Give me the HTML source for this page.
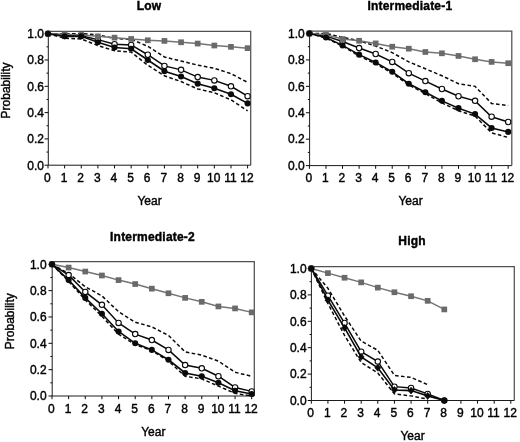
<!DOCTYPE html>
<html><head><meta charset="utf-8"><title>Survival probability by risk group</title>
<style>
html,body{margin:0;padding:0;background:#fff;}
body{width:520px;height:442px;overflow:hidden;}
svg{display:block;will-change:transform;filter:blur(0.35px);}
text{font-family:"Liberation Sans", sans-serif;fill:#000;stroke:#000;stroke-width:0.4px;}
.t{font-size:12px;}
.h{font-size:12px;font-weight:bold;letter-spacing:0.2px;}
</style></head><body>
<svg width="520" height="442" viewBox="0 0 520 442">
<rect width="520" height="442" fill="#fff"/>
<g>
<path d="M48.3 31.3 H250.7 V165.2" fill="none" stroke="#505050" stroke-width="1.25"/>
<path d="M48.3 31.3 V165.2 H250.7" fill="none" stroke="#1c1c1c" stroke-width="1"/>
<path d="M48 165.2v3.2M64.63 165.2v3.2M81.27 165.2v3.2M97.9 165.2v3.2M114.53 165.2v3.2M131.17 165.2v3.2M147.8 165.2v3.2M164.43 165.2v3.2M181.07 165.2v3.2M197.7 165.2v3.2M214.33 165.2v3.2M230.97 165.2v3.2M247.6 165.2v3.2M48.3 165.2h-3.7M48.3 152.05h-1.8M48.3 138.9h-3.7M48.3 125.75h-1.8M48.3 112.6h-3.7M48.3 99.45h-1.8M48.3 86.3h-3.7M48.3 73.15h-1.8M48.3 60h-3.7M48.3 46.85h-1.8M48.3 33.7h-3.7" fill="none" stroke="#0a0a0a" stroke-width="1"/>
<text class="t" x="47.4" y="182" text-anchor="middle">0</text>
<text class="t" x="64.03" y="182" text-anchor="middle">1</text>
<text class="t" x="80.67" y="182" text-anchor="middle">2</text>
<text class="t" x="97.3" y="182" text-anchor="middle">3</text>
<text class="t" x="113.93" y="182" text-anchor="middle">4</text>
<text class="t" x="130.57" y="182" text-anchor="middle">5</text>
<text class="t" x="147.2" y="182" text-anchor="middle">6</text>
<text class="t" x="163.83" y="182" text-anchor="middle">7</text>
<text class="t" x="180.47" y="182" text-anchor="middle">8</text>
<text class="t" x="197.1" y="182" text-anchor="middle">9</text>
<text class="t" x="213.73" y="182" text-anchor="middle">10</text>
<text class="t" x="230.37" y="182" text-anchor="middle">11</text>
<text class="t" x="247" y="182" text-anchor="middle">12</text>
<text class="t" x="43.9" y="169.5" text-anchor="end">0.0</text>
<text class="t" x="43.9" y="143.2" text-anchor="end">0.2</text>
<text class="t" x="43.9" y="116.9" text-anchor="end">0.4</text>
<text class="t" x="43.9" y="90.6" text-anchor="end">0.6</text>
<text class="t" x="43.9" y="64.3" text-anchor="end">0.8</text>
<text class="t" x="43.9" y="38" text-anchor="end">1.0</text>
<text class="h" x="149.1" y="10.2" text-anchor="middle">Low</text>
<text class="t" x="149.5" y="205" text-anchor="middle">Year</text>
<text class="t" transform="translate(10.3 90.45) rotate(-90)" text-anchor="middle">Probability</text>
<polyline points="48,33.7 64.63,33.7 81.27,33.7 97.9,34.75 114.53,38.57 131.17,39.22 147.8,46.32 164.43,56.98 181.07,61.05 197.7,65.13 214.33,68.28 230.97,73.68 247.6,82.35" fill="none" stroke="#0a0a0a" stroke-width="1.5" stroke-dasharray="3.6 2.4"/>
<polyline points="48,33.7 64.63,38.3 81.27,38.96 97.9,45.53 114.53,50.79 131.17,52.11 147.8,65.26 164.43,75.78 181.07,81.57 197.7,88.93 214.33,92.74 230.97,99.84 247.6,110.76" fill="none" stroke="#0a0a0a" stroke-width="1.5" stroke-dasharray="3.6 2.4"/>
<polyline points="48,33.7 64.63,35.67 81.27,35.67 97.9,39.62 114.53,44.22 131.17,44.88 147.8,54.74 164.43,65.92 181.07,69.86 197.7,77.09 214.33,80.38 230.97,86.3 247.6,96.16" fill="none" stroke="#0a0a0a" stroke-width="1.5"/>
<circle cx="48" cy="33.7" r="2.7" fill="#fff" stroke="#0a0a0a" stroke-width="1.1"/>
<circle cx="64.63" cy="35.67" r="2.7" fill="#fff" stroke="#0a0a0a" stroke-width="1.1"/>
<circle cx="81.27" cy="35.67" r="2.7" fill="#fff" stroke="#0a0a0a" stroke-width="1.1"/>
<circle cx="97.9" cy="39.62" r="2.7" fill="#fff" stroke="#0a0a0a" stroke-width="1.1"/>
<circle cx="114.53" cy="44.22" r="2.7" fill="#fff" stroke="#0a0a0a" stroke-width="1.1"/>
<circle cx="131.17" cy="44.88" r="2.7" fill="#fff" stroke="#0a0a0a" stroke-width="1.1"/>
<circle cx="147.8" cy="54.74" r="2.7" fill="#fff" stroke="#0a0a0a" stroke-width="1.1"/>
<circle cx="164.43" cy="65.92" r="2.7" fill="#fff" stroke="#0a0a0a" stroke-width="1.1"/>
<circle cx="181.07" cy="69.86" r="2.7" fill="#fff" stroke="#0a0a0a" stroke-width="1.1"/>
<circle cx="197.7" cy="77.09" r="2.7" fill="#fff" stroke="#0a0a0a" stroke-width="1.1"/>
<circle cx="214.33" cy="80.38" r="2.7" fill="#fff" stroke="#0a0a0a" stroke-width="1.1"/>
<circle cx="230.97" cy="86.3" r="2.7" fill="#fff" stroke="#0a0a0a" stroke-width="1.1"/>
<circle cx="247.6" cy="96.16" r="2.7" fill="#fff" stroke="#0a0a0a" stroke-width="1.1"/>
<polyline points="48,33.7 64.63,34.36 81.27,35.01 97.9,36.33 114.53,37.64 131.17,38.96 147.8,40.27 164.43,40.93 181.07,42.25 197.7,43.56 214.33,45.53 230.97,46.85 247.6,48.16" fill="none" stroke="#747474" stroke-width="1.5"/>
<rect x="45.15" y="30.85" width="5.7" height="5.7" fill="#6a6a6a"/>
<rect x="61.78" y="31.51" width="5.7" height="5.7" fill="#6a6a6a"/>
<rect x="78.42" y="32.16" width="5.7" height="5.7" fill="#6a6a6a"/>
<rect x="95.05" y="33.48" width="5.7" height="5.7" fill="#6a6a6a"/>
<rect x="111.68" y="34.79" width="5.7" height="5.7" fill="#6a6a6a"/>
<rect x="128.32" y="36.11" width="5.7" height="5.7" fill="#6a6a6a"/>
<rect x="144.95" y="37.42" width="5.7" height="5.7" fill="#6a6a6a"/>
<rect x="161.58" y="38.08" width="5.7" height="5.7" fill="#6a6a6a"/>
<rect x="178.22" y="39.4" width="5.7" height="5.7" fill="#6a6a6a"/>
<rect x="194.85" y="40.71" width="5.7" height="5.7" fill="#6a6a6a"/>
<rect x="211.48" y="42.68" width="5.7" height="5.7" fill="#6a6a6a"/>
<rect x="228.12" y="44" width="5.7" height="5.7" fill="#6a6a6a"/>
<rect x="244.75" y="45.31" width="5.7" height="5.7" fill="#6a6a6a"/>
<polyline points="48,33.7 64.63,36.33 81.27,36.33 97.9,42.25 114.53,47.51 131.17,48.82 147.8,60 164.43,71.18 181.07,76.44 197.7,83.67 214.33,88.27 230.97,94.19 247.6,103.39" fill="none" stroke="#0a0a0a" stroke-width="1.6"/>
<circle cx="48" cy="33.7" r="3.05" fill="#0a0a0a"/>
<circle cx="64.63" cy="36.33" r="3.05" fill="#0a0a0a"/>
<circle cx="81.27" cy="36.33" r="3.05" fill="#0a0a0a"/>
<circle cx="97.9" cy="42.25" r="3.05" fill="#0a0a0a"/>
<circle cx="114.53" cy="47.51" r="3.05" fill="#0a0a0a"/>
<circle cx="131.17" cy="48.82" r="3.05" fill="#0a0a0a"/>
<circle cx="147.8" cy="60" r="3.05" fill="#0a0a0a"/>
<circle cx="164.43" cy="71.18" r="3.05" fill="#0a0a0a"/>
<circle cx="181.07" cy="76.44" r="3.05" fill="#0a0a0a"/>
<circle cx="197.7" cy="83.67" r="3.05" fill="#0a0a0a"/>
<circle cx="214.33" cy="88.27" r="3.05" fill="#0a0a0a"/>
<circle cx="230.97" cy="94.19" r="3.05" fill="#0a0a0a"/>
<circle cx="247.6" cy="103.39" r="3.05" fill="#0a0a0a"/>
</g>
<g>
<path d="M309.6 31 H511.8 V165.6" fill="none" stroke="#505050" stroke-width="1.25"/>
<path d="M309.6 31 V165.6 H511.8" fill="none" stroke="#1c1c1c" stroke-width="1"/>
<path d="M309.4 165.6v3.2M325.97 165.6v3.2M342.53 165.6v3.2M359.1 165.6v3.2M375.67 165.6v3.2M392.23 165.6v3.2M408.8 165.6v3.2M425.37 165.6v3.2M441.93 165.6v3.2M458.5 165.6v3.2M475.07 165.6v3.2M491.63 165.6v3.2M508.2 165.6v3.2M309.6 165.6h-3.7M309.6 152.39h-1.8M309.6 139.18h-3.7M309.6 125.97h-1.8M309.6 112.76h-3.7M309.6 99.55h-1.8M309.6 86.34h-3.7M309.6 73.13h-1.8M309.6 59.92h-3.7M309.6 46.71h-1.8M309.6 33.5h-3.7" fill="none" stroke="#0a0a0a" stroke-width="1"/>
<text class="t" x="308.8" y="182.4" text-anchor="middle">0</text>
<text class="t" x="325.37" y="182.4" text-anchor="middle">1</text>
<text class="t" x="341.93" y="182.4" text-anchor="middle">2</text>
<text class="t" x="358.5" y="182.4" text-anchor="middle">3</text>
<text class="t" x="375.07" y="182.4" text-anchor="middle">4</text>
<text class="t" x="391.63" y="182.4" text-anchor="middle">5</text>
<text class="t" x="408.2" y="182.4" text-anchor="middle">6</text>
<text class="t" x="424.77" y="182.4" text-anchor="middle">7</text>
<text class="t" x="441.33" y="182.4" text-anchor="middle">8</text>
<text class="t" x="457.9" y="182.4" text-anchor="middle">9</text>
<text class="t" x="474.47" y="182.4" text-anchor="middle">10</text>
<text class="t" x="491.03" y="182.4" text-anchor="middle">11</text>
<text class="t" x="507.6" y="182.4" text-anchor="middle">12</text>
<text class="t" x="304.8" y="169.9" text-anchor="end">0.0</text>
<text class="t" x="304.8" y="143.48" text-anchor="end">0.2</text>
<text class="t" x="304.8" y="117.06" text-anchor="end">0.4</text>
<text class="t" x="304.8" y="90.64" text-anchor="end">0.6</text>
<text class="t" x="304.8" y="64.22" text-anchor="end">0.8</text>
<text class="t" x="304.8" y="37.8" text-anchor="end">1.0</text>
<text class="h" x="409.9" y="10.2" text-anchor="middle">Intermediate-1</text>
<text class="t" x="410.5" y="205" text-anchor="middle">Year</text>
<polyline points="309.4,33.5 325.97,33.5 342.53,37.2 359.1,40.77 375.67,46.05 392.23,52.65 408.8,61.9 425.37,68.77 441.93,75.77 458.5,83.7 475.07,86.34 491.63,103.51 508.2,105.49" fill="none" stroke="#0a0a0a" stroke-width="1.5" stroke-dasharray="3.6 2.4"/>
<polyline points="309.4,33.5 325.97,38.12 342.53,46.05 359.1,55.96 375.67,63.88 392.23,73.13 408.8,85.02 425.37,93.61 441.93,102.85 458.5,110.78 475.07,116.06 491.63,132.84 508.2,137.46" fill="none" stroke="#0a0a0a" stroke-width="1.5" stroke-dasharray="3.6 2.4"/>
<polyline points="309.4,33.5 325.97,36.14 342.53,41.43 359.1,48.03 375.67,53.98 392.23,61.9 408.8,73.13 425.37,81.06 441.93,88.98 458.5,96.25 475.07,100.87 491.63,116.72 508.2,122.01" fill="none" stroke="#0a0a0a" stroke-width="1.5"/>
<circle cx="309.4" cy="33.5" r="2.7" fill="#fff" stroke="#0a0a0a" stroke-width="1.1"/>
<circle cx="325.97" cy="36.14" r="2.7" fill="#fff" stroke="#0a0a0a" stroke-width="1.1"/>
<circle cx="342.53" cy="41.43" r="2.7" fill="#fff" stroke="#0a0a0a" stroke-width="1.1"/>
<circle cx="359.1" cy="48.03" r="2.7" fill="#fff" stroke="#0a0a0a" stroke-width="1.1"/>
<circle cx="375.67" cy="53.98" r="2.7" fill="#fff" stroke="#0a0a0a" stroke-width="1.1"/>
<circle cx="392.23" cy="61.9" r="2.7" fill="#fff" stroke="#0a0a0a" stroke-width="1.1"/>
<circle cx="408.8" cy="73.13" r="2.7" fill="#fff" stroke="#0a0a0a" stroke-width="1.1"/>
<circle cx="425.37" cy="81.06" r="2.7" fill="#fff" stroke="#0a0a0a" stroke-width="1.1"/>
<circle cx="441.93" cy="88.98" r="2.7" fill="#fff" stroke="#0a0a0a" stroke-width="1.1"/>
<circle cx="458.5" cy="96.25" r="2.7" fill="#fff" stroke="#0a0a0a" stroke-width="1.1"/>
<circle cx="475.07" cy="100.87" r="2.7" fill="#fff" stroke="#0a0a0a" stroke-width="1.1"/>
<circle cx="491.63" cy="116.72" r="2.7" fill="#fff" stroke="#0a0a0a" stroke-width="1.1"/>
<circle cx="508.2" cy="122.01" r="2.7" fill="#fff" stroke="#0a0a0a" stroke-width="1.1"/>
<polyline points="309.4,33.5 325.97,34.82 342.53,39.05 359.1,40.77 375.67,43.41 392.23,46.71 408.8,48.69 425.37,51.99 441.93,53.31 458.5,55.96 475.07,59.26 491.63,61.9 508.2,63.22" fill="none" stroke="#747474" stroke-width="1.5"/>
<rect x="306.55" y="30.65" width="5.7" height="5.7" fill="#6a6a6a"/>
<rect x="323.12" y="31.97" width="5.7" height="5.7" fill="#6a6a6a"/>
<rect x="339.68" y="36.2" width="5.7" height="5.7" fill="#6a6a6a"/>
<rect x="356.25" y="37.92" width="5.7" height="5.7" fill="#6a6a6a"/>
<rect x="372.82" y="40.56" width="5.7" height="5.7" fill="#6a6a6a"/>
<rect x="389.38" y="43.86" width="5.7" height="5.7" fill="#6a6a6a"/>
<rect x="405.95" y="45.84" width="5.7" height="5.7" fill="#6a6a6a"/>
<rect x="422.52" y="49.14" width="5.7" height="5.7" fill="#6a6a6a"/>
<rect x="439.08" y="50.46" width="5.7" height="5.7" fill="#6a6a6a"/>
<rect x="455.65" y="53.11" width="5.7" height="5.7" fill="#6a6a6a"/>
<rect x="472.22" y="56.41" width="5.7" height="5.7" fill="#6a6a6a"/>
<rect x="488.78" y="59.05" width="5.7" height="5.7" fill="#6a6a6a"/>
<rect x="505.35" y="60.37" width="5.7" height="5.7" fill="#6a6a6a"/>
<polyline points="309.4,33.5 325.97,37.46 342.53,45.39 359.1,54.64 375.67,62.56 392.23,71.81 408.8,83.7 425.37,92.28 441.93,100.87 458.5,108.14 475.07,114.08 491.63,127.95 508.2,131.91" fill="none" stroke="#0a0a0a" stroke-width="1.6"/>
<circle cx="309.4" cy="33.5" r="3.05" fill="#0a0a0a"/>
<circle cx="325.97" cy="37.46" r="3.05" fill="#0a0a0a"/>
<circle cx="342.53" cy="45.39" r="3.05" fill="#0a0a0a"/>
<circle cx="359.1" cy="54.64" r="3.05" fill="#0a0a0a"/>
<circle cx="375.67" cy="62.56" r="3.05" fill="#0a0a0a"/>
<circle cx="392.23" cy="71.81" r="3.05" fill="#0a0a0a"/>
<circle cx="408.8" cy="83.7" r="3.05" fill="#0a0a0a"/>
<circle cx="425.37" cy="92.28" r="3.05" fill="#0a0a0a"/>
<circle cx="441.93" cy="100.87" r="3.05" fill="#0a0a0a"/>
<circle cx="458.5" cy="108.14" r="3.05" fill="#0a0a0a"/>
<circle cx="475.07" cy="114.08" r="3.05" fill="#0a0a0a"/>
<circle cx="491.63" cy="127.95" r="3.05" fill="#0a0a0a"/>
<circle cx="508.2" cy="131.91" r="3.05" fill="#0a0a0a"/>
</g>
<g>
<path d="M52.2 261.6 H254.3 V396" fill="none" stroke="#505050" stroke-width="1.25"/>
<path d="M52.2 261.6 V396 H254.3" fill="none" stroke="#1c1c1c" stroke-width="1"/>
<path d="M52 396v3.2M68.64 396v3.2M85.28 396v3.2M101.92 396v3.2M118.57 396v3.2M135.21 396v3.2M151.85 396v3.2M168.49 396v3.2M185.13 396v3.2M201.77 396v3.2M218.42 396v3.2M235.06 396v3.2M251.7 396v3.2M52.2 396h-3.7M52.2 382.83h-1.8M52.2 369.66h-3.7M52.2 356.49h-1.8M52.2 343.32h-3.7M52.2 330.15h-1.8M52.2 316.98h-3.7M52.2 303.81h-1.8M52.2 290.64h-3.7M52.2 277.47h-1.8M52.2 264.3h-3.7" fill="none" stroke="#0a0a0a" stroke-width="1"/>
<text class="t" x="51.4" y="412.8" text-anchor="middle">0</text>
<text class="t" x="68.04" y="412.8" text-anchor="middle">1</text>
<text class="t" x="84.68" y="412.8" text-anchor="middle">2</text>
<text class="t" x="101.33" y="412.8" text-anchor="middle">3</text>
<text class="t" x="117.97" y="412.8" text-anchor="middle">4</text>
<text class="t" x="134.61" y="412.8" text-anchor="middle">5</text>
<text class="t" x="151.25" y="412.8" text-anchor="middle">6</text>
<text class="t" x="167.89" y="412.8" text-anchor="middle">7</text>
<text class="t" x="184.53" y="412.8" text-anchor="middle">8</text>
<text class="t" x="201.17" y="412.8" text-anchor="middle">9</text>
<text class="t" x="217.82" y="412.8" text-anchor="middle">10</text>
<text class="t" x="234.46" y="412.8" text-anchor="middle">11</text>
<text class="t" x="251.1" y="412.8" text-anchor="middle">12</text>
<text class="t" x="46.6" y="400.3" text-anchor="end">0.0</text>
<text class="t" x="46.6" y="373.96" text-anchor="end">0.2</text>
<text class="t" x="46.6" y="347.62" text-anchor="end">0.4</text>
<text class="t" x="46.6" y="321.28" text-anchor="end">0.6</text>
<text class="t" x="46.6" y="294.94" text-anchor="end">0.8</text>
<text class="t" x="46.6" y="268.6" text-anchor="end">1.0</text>
<text class="h" x="152.5" y="241" text-anchor="middle">Intermediate-2</text>
<text class="t" x="153.3" y="436" text-anchor="middle">Year</text>
<text class="t" transform="translate(14.2 321.15) rotate(-90)" text-anchor="middle">Probability</text>
<polyline points="52,264.3 68.64,273.52 85.28,286.69 101.92,295.91 118.57,311.71 135.21,322.25 151.85,326.86 168.49,335.42 185.13,351.88 201.77,355.17 218.42,361.1 235.06,372.29 251.7,376.25" fill="none" stroke="#0a0a0a" stroke-width="1.5" stroke-dasharray="3.6 2.4"/>
<polyline points="52,264.3 68.64,281.42 85.28,299.86 101.92,316.32 118.57,334.1 135.21,344.64 151.85,350.56 168.49,361.1 185.13,376.25 201.77,378.88 218.42,386.12 235.06,393.37 251.7,396" fill="none" stroke="#0a0a0a" stroke-width="1.5" stroke-dasharray="3.6 2.4"/>
<polyline points="52,264.3 68.64,275.1 85.28,291.96 101.92,304.86 118.57,322.91 135.21,334.1 151.85,340.03 168.49,349.91 185.13,365.05 201.77,368.34 218.42,376.25 235.06,387.44 251.7,391.39" fill="none" stroke="#0a0a0a" stroke-width="1.5"/>
<circle cx="52" cy="264.3" r="2.7" fill="#fff" stroke="#0a0a0a" stroke-width="1.1"/>
<circle cx="68.64" cy="275.1" r="2.7" fill="#fff" stroke="#0a0a0a" stroke-width="1.1"/>
<circle cx="85.28" cy="291.96" r="2.7" fill="#fff" stroke="#0a0a0a" stroke-width="1.1"/>
<circle cx="101.92" cy="304.86" r="2.7" fill="#fff" stroke="#0a0a0a" stroke-width="1.1"/>
<circle cx="118.57" cy="322.91" r="2.7" fill="#fff" stroke="#0a0a0a" stroke-width="1.1"/>
<circle cx="135.21" cy="334.1" r="2.7" fill="#fff" stroke="#0a0a0a" stroke-width="1.1"/>
<circle cx="151.85" cy="340.03" r="2.7" fill="#fff" stroke="#0a0a0a" stroke-width="1.1"/>
<circle cx="168.49" cy="349.91" r="2.7" fill="#fff" stroke="#0a0a0a" stroke-width="1.1"/>
<circle cx="185.13" cy="365.05" r="2.7" fill="#fff" stroke="#0a0a0a" stroke-width="1.1"/>
<circle cx="201.77" cy="368.34" r="2.7" fill="#fff" stroke="#0a0a0a" stroke-width="1.1"/>
<circle cx="218.42" cy="376.25" r="2.7" fill="#fff" stroke="#0a0a0a" stroke-width="1.1"/>
<circle cx="235.06" cy="387.44" r="2.7" fill="#fff" stroke="#0a0a0a" stroke-width="1.1"/>
<circle cx="251.7" cy="391.39" r="2.7" fill="#fff" stroke="#0a0a0a" stroke-width="1.1"/>
<polyline points="52,264.3 68.64,267.59 85.28,271.54 101.92,275.49 118.57,280.1 135.21,284.06 151.85,288.66 168.49,293.27 185.13,297.88 201.77,301.83 218.42,306.44 235.06,308.42 251.7,312.37" fill="none" stroke="#747474" stroke-width="1.5"/>
<rect x="49.15" y="261.45" width="5.7" height="5.7" fill="#6a6a6a"/>
<rect x="65.79" y="264.74" width="5.7" height="5.7" fill="#6a6a6a"/>
<rect x="82.43" y="268.69" width="5.7" height="5.7" fill="#6a6a6a"/>
<rect x="99.08" y="272.64" width="5.7" height="5.7" fill="#6a6a6a"/>
<rect x="115.72" y="277.25" width="5.7" height="5.7" fill="#6a6a6a"/>
<rect x="132.36" y="281.2" width="5.7" height="5.7" fill="#6a6a6a"/>
<rect x="149" y="285.81" width="5.7" height="5.7" fill="#6a6a6a"/>
<rect x="165.64" y="290.42" width="5.7" height="5.7" fill="#6a6a6a"/>
<rect x="182.28" y="295.03" width="5.7" height="5.7" fill="#6a6a6a"/>
<rect x="198.92" y="298.98" width="5.7" height="5.7" fill="#6a6a6a"/>
<rect x="215.57" y="303.59" width="5.7" height="5.7" fill="#6a6a6a"/>
<rect x="232.21" y="305.57" width="5.7" height="5.7" fill="#6a6a6a"/>
<rect x="248.85" y="309.52" width="5.7" height="5.7" fill="#6a6a6a"/>
<polyline points="52,264.3 68.64,280.1 85.28,297.88 101.92,313.69 118.57,331.47 135.21,343.32 151.85,349.91 168.49,359.78 185.13,372.95 201.77,376.25 218.42,382.83 235.06,390.73 251.7,394.02" fill="none" stroke="#0a0a0a" stroke-width="1.6"/>
<circle cx="52" cy="264.3" r="3.05" fill="#0a0a0a"/>
<circle cx="68.64" cy="280.1" r="3.05" fill="#0a0a0a"/>
<circle cx="85.28" cy="297.88" r="3.05" fill="#0a0a0a"/>
<circle cx="101.92" cy="313.69" r="3.05" fill="#0a0a0a"/>
<circle cx="118.57" cy="331.47" r="3.05" fill="#0a0a0a"/>
<circle cx="135.21" cy="343.32" r="3.05" fill="#0a0a0a"/>
<circle cx="151.85" cy="349.91" r="3.05" fill="#0a0a0a"/>
<circle cx="168.49" cy="359.78" r="3.05" fill="#0a0a0a"/>
<circle cx="185.13" cy="372.95" r="3.05" fill="#0a0a0a"/>
<circle cx="201.77" cy="376.25" r="3.05" fill="#0a0a0a"/>
<circle cx="218.42" cy="382.83" r="3.05" fill="#0a0a0a"/>
<circle cx="235.06" cy="390.73" r="3.05" fill="#0a0a0a"/>
<circle cx="251.7" cy="394.02" r="3.05" fill="#0a0a0a"/>
</g>
<g>
<path d="M311.4 266.5 H514.3 V400.5" fill="none" stroke="#505050" stroke-width="1.25"/>
<path d="M311.4 266.5 V400.5 H514.3" fill="none" stroke="#1c1c1c" stroke-width="1"/>
<path d="M311.3 400.5v3.2M327.93 400.5v3.2M344.55 400.5v3.2M361.18 400.5v3.2M377.8 400.5v3.2M394.43 400.5v3.2M411.05 400.5v3.2M427.68 400.5v3.2M444.3 400.5v3.2M460.93 400.5v3.2M477.55 400.5v3.2M494.18 400.5v3.2M510.8 400.5v3.2M311.4 400.5h-3.7M311.4 387.3h-1.8M311.4 374.1h-3.7M311.4 360.9h-1.8M311.4 347.7h-3.7M311.4 334.5h-1.8M311.4 321.3h-3.7M311.4 308.1h-1.8M311.4 294.9h-3.7M311.4 281.7h-1.8M311.4 268.5h-3.7" fill="none" stroke="#0a0a0a" stroke-width="1"/>
<text class="t" x="310.7" y="417.3" text-anchor="middle">0</text>
<text class="t" x="327.32" y="417.3" text-anchor="middle">1</text>
<text class="t" x="343.95" y="417.3" text-anchor="middle">2</text>
<text class="t" x="360.57" y="417.3" text-anchor="middle">3</text>
<text class="t" x="377.2" y="417.3" text-anchor="middle">4</text>
<text class="t" x="393.82" y="417.3" text-anchor="middle">5</text>
<text class="t" x="410.45" y="417.3" text-anchor="middle">6</text>
<text class="t" x="427.07" y="417.3" text-anchor="middle">7</text>
<text class="t" x="443.7" y="417.3" text-anchor="middle">8</text>
<text class="t" x="460.32" y="417.3" text-anchor="middle">9</text>
<text class="t" x="476.95" y="417.3" text-anchor="middle">10</text>
<text class="t" x="493.57" y="417.3" text-anchor="middle">11</text>
<text class="t" x="510.2" y="417.3" text-anchor="middle">12</text>
<text class="t" x="306.6" y="404.8" text-anchor="end">0.0</text>
<text class="t" x="306.6" y="378.4" text-anchor="end">0.2</text>
<text class="t" x="306.6" y="352" text-anchor="end">0.4</text>
<text class="t" x="306.6" y="325.6" text-anchor="end">0.6</text>
<text class="t" x="306.6" y="299.2" text-anchor="end">0.8</text>
<text class="t" x="306.6" y="272.8" text-anchor="end">1.0</text>
<text class="h" x="412" y="245" text-anchor="middle">High</text>
<text class="t" x="412.5" y="440" text-anchor="middle">Year</text>
<polyline points="311.3,268.5 327.93,288.3 344.55,316.02 361.18,341.1 377.8,350.34 394.43,375.42 411.05,377.4 427.68,384.66" fill="none" stroke="#0a0a0a" stroke-width="1.5" stroke-dasharray="3.6 2.4"/>
<polyline points="311.3,268.5 327.93,303.48 344.55,335.42 361.18,362.48 377.8,373.04 394.43,393.9 411.05,395.88 427.68,399.18" fill="none" stroke="#0a0a0a" stroke-width="1.5" stroke-dasharray="3.6 2.4"/>
<polyline points="311.3,268.5 327.93,295.69 344.55,323.02 361.18,351.66 377.8,361.56 394.43,386.64 411.05,387.96 427.68,393.9 444.3,400.5" fill="none" stroke="#0a0a0a" stroke-width="1.5"/>
<circle cx="311.3" cy="268.5" r="2.7" fill="#fff" stroke="#0a0a0a" stroke-width="1.1"/>
<circle cx="327.93" cy="295.69" r="2.7" fill="#fff" stroke="#0a0a0a" stroke-width="1.1"/>
<circle cx="344.55" cy="323.02" r="2.7" fill="#fff" stroke="#0a0a0a" stroke-width="1.1"/>
<circle cx="361.18" cy="351.66" r="2.7" fill="#fff" stroke="#0a0a0a" stroke-width="1.1"/>
<circle cx="377.8" cy="361.56" r="2.7" fill="#fff" stroke="#0a0a0a" stroke-width="1.1"/>
<circle cx="394.43" cy="386.64" r="2.7" fill="#fff" stroke="#0a0a0a" stroke-width="1.1"/>
<circle cx="411.05" cy="387.96" r="2.7" fill="#fff" stroke="#0a0a0a" stroke-width="1.1"/>
<circle cx="427.68" cy="393.9" r="2.7" fill="#fff" stroke="#0a0a0a" stroke-width="1.1"/>
<circle cx="444.3" cy="400.5" r="2.7" fill="#fff" stroke="#0a0a0a" stroke-width="1.1"/>
<polyline points="311.3,268.5 327.93,273.12 344.55,277.74 361.18,282.36 377.8,287.64 394.43,292.26 411.05,296.22 427.68,300.84 444.3,309.42" fill="none" stroke="#747474" stroke-width="1.5"/>
<rect x="308.45" y="265.65" width="5.7" height="5.7" fill="#6a6a6a"/>
<rect x="325.07" y="270.27" width="5.7" height="5.7" fill="#6a6a6a"/>
<rect x="341.7" y="274.89" width="5.7" height="5.7" fill="#6a6a6a"/>
<rect x="358.32" y="279.51" width="5.7" height="5.7" fill="#6a6a6a"/>
<rect x="374.95" y="284.79" width="5.7" height="5.7" fill="#6a6a6a"/>
<rect x="391.57" y="289.41" width="5.7" height="5.7" fill="#6a6a6a"/>
<rect x="408.2" y="293.37" width="5.7" height="5.7" fill="#6a6a6a"/>
<rect x="424.82" y="297.99" width="5.7" height="5.7" fill="#6a6a6a"/>
<rect x="441.45" y="306.57" width="5.7" height="5.7" fill="#6a6a6a"/>
<polyline points="311.3,268.5 327.93,300.18 344.55,327.9 361.18,356.94 377.8,367.76 394.43,389.94 411.05,390.6 427.68,395.88 444.3,400.5" fill="none" stroke="#0a0a0a" stroke-width="1.6"/>
<circle cx="311.3" cy="268.5" r="3.05" fill="#0a0a0a"/>
<path d="M327.93 296.78l3 3.4l-3 3.4l-3 -3.4z" fill="#0a0a0a" stroke="#0a0a0a" stroke-width="0.7" stroke-linejoin="round"/>
<path d="M344.55 324.5l3 3.4l-3 3.4l-3 -3.4z" fill="#0a0a0a" stroke="#0a0a0a" stroke-width="0.7" stroke-linejoin="round"/>
<path d="M361.18 353.54l3 3.4l-3 3.4l-3 -3.4z" fill="#0a0a0a" stroke="#0a0a0a" stroke-width="0.7" stroke-linejoin="round"/>
<path d="M377.8 364.36l3 3.4l-3 3.4l-3 -3.4z" fill="#0a0a0a" stroke="#0a0a0a" stroke-width="0.7" stroke-linejoin="round"/>
<path d="M394.43 386.54l3 3.4l-3 3.4l-3 -3.4z" fill="#0a0a0a" stroke="#0a0a0a" stroke-width="0.7" stroke-linejoin="round"/>
<path d="M411.05 387.2l3 3.4l-3 3.4l-3 -3.4z" fill="#0a0a0a" stroke="#0a0a0a" stroke-width="0.7" stroke-linejoin="round"/>
<path d="M427.68 392.48l3 3.4l-3 3.4l-3 -3.4z" fill="#0a0a0a" stroke="#0a0a0a" stroke-width="0.7" stroke-linejoin="round"/>
<circle cx="444.3" cy="400.5" r="3.05" fill="#0a0a0a"/>
</g>
</svg>
</body></html>
